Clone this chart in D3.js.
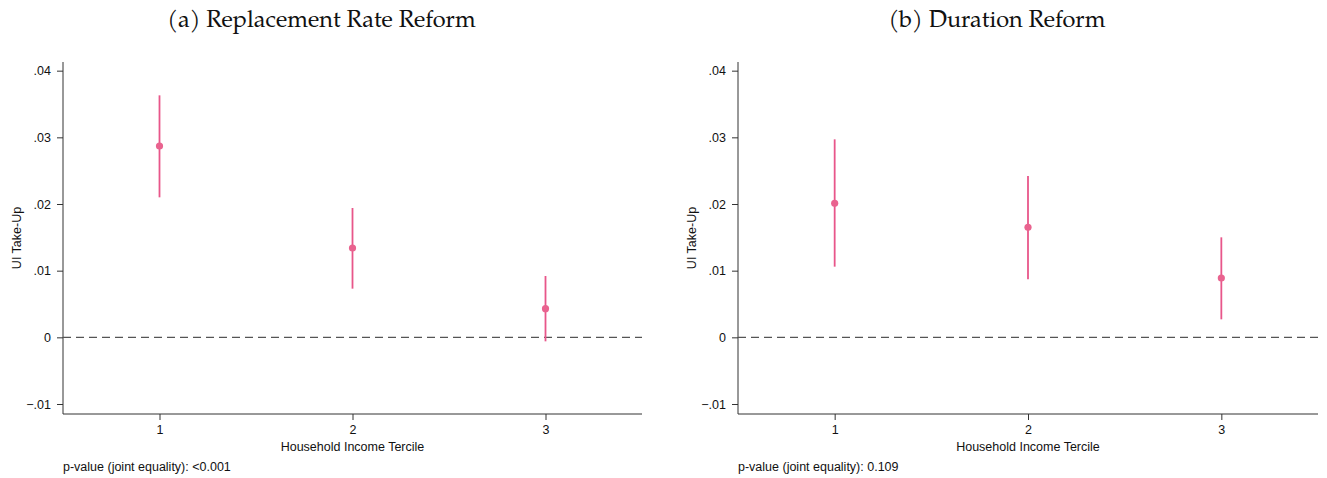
<!DOCTYPE html>
<html>
<head>
<meta charset="utf-8">
<script src="https://cdn.jsdelivr.net/npm/d3@7"></script>
<style>
  body { margin: 0; background: #fff; }
  svg { display: block; }
</style>
</head>
<body>
<div id="chart"></div>
<script>
const terciles = [1, 2, 3];
const yTicks = [-0.01, 0, 0.01, 0.02, 0.03, 0.04];
const titles = ["(a) Replacement Rate Reform", "(b) Duration Reform"];
const pValues = ["<0.001", "0.109"];

// point estimates and 95% bounds
const rrEstimate = [0.0287, 0.0134, 0.0043];
const rrLower = [0.0210, 0.0073, -0.0006];
const rrUpper = [0.0363, 0.0194, 0.0092];

const durEstimate = [0.0201, 0.0165, 0.0089];
const durLower = [0.0106, 0.0087, 0.0027];
const durUpper = [0.0297, 0.0242, 0.0150];

const panels = [
  { title: titles[0], p: pValues[0], est: rrEstimate, lo: rrLower, hi: rrUpper, left: 63, right: 642 },
  { title: titles[1], p: pValues[1], est: durEstimate, lo: durLower, hi: durUpper, left: 738, right: 1318 },
];

const width = 1327;
const height = 478;
const plotTop = 62;
const plotBottom = 414;
const pink = "#e8568a";

const svg = d3
  .select("#chart")
  .append("svg")
  .attr("width", width)
  .attr("height", height)
  .style("font-family", "'Liberation Sans', Arial, sans-serif");

const y = d3.scaleLinear().domain([-0.0115, 0.0413]).range([plotBottom, plotTop]);

panels.forEach((p) => {
  const x = d3.scaleLinear().domain([0.5, 3.5]).range([p.left, p.right]);
  const g = svg.append("g");

  g.append("text")
    .attr("x", (p.left + p.right) / 2 - 31)
    .attr("y", 27)
    .attr("text-anchor", "middle")
    .style("font-family", "'Palatino Linotype', 'TeX Gyre Pagella', 'DejaVu Serif', serif")
    .style("font-size", "23.5px")
    .attr("fill", "#111")
    .text(p.title);

  const yAxis = g
    .append("g")
    .attr("transform", `translate(${p.left},0)`)
    .call(
      d3
        .axisLeft(y)
        .tickValues(yTicks)
        .tickSize(6)
        .tickPadding(6)
        .tickFormat((d) => (d === 0 ? "0" : d3.format(".2f")(d).replace("0.", "."))),
    );
  yAxis.select(".domain").attr("d", `M0,${plotTop}V${plotBottom}`).attr("stroke", "#333");

  const xAxis = g
    .append("g")
    .attr("transform", `translate(0,${plotBottom})`)
    .call(d3.axisBottom(x).tickValues(terciles).tickSize(6).tickPadding(5).tickFormat(d3.format("d")));
  xAxis.select(".domain").attr("d", `M${p.left},0H${p.right}`).attr("stroke", "#333");

  [yAxis, xAxis].forEach((a) => {
    a.selectAll(".tick line").attr("stroke", "#333");
    a.selectAll("text").style("font-size", "12.5px").attr("fill", "#111");
  });

  g.append("text")
    .attr("transform", `translate(${p.left - 42},${(plotTop + plotBottom) / 2}) rotate(-90)`)
    .attr("text-anchor", "middle")
    .style("font-size", "12.5px")
    .attr("fill", "#111")
    .text("UI Take-Up");

  g.append("text")
    .attr("x", x(2))
    .attr("y", 451)
    .attr("text-anchor", "middle")
    .style("font-size", "12.5px")
    .attr("fill", "#111")
    .text("Household Income Tercile");

  g.append("text")
    .attr("x", p.left)
    .attr("y", 471)
    .style("font-size", "12.5px")
    .attr("fill", "#111")
    .text(`p-value (joint equality): ${p.p}`);

  // zero reference line
  g.append("line")
    .attr("x1", p.left)
    .attr("x2", p.right)
    .attr("y1", y(0))
    .attr("y2", y(0))
    .attr("stroke", "#555")
    .attr("stroke-width", 1.3)
    .attr("stroke-dasharray", "8,5");

  const rows = terciles.map((t, i) => ({ t, est: p.est[i], lo: p.lo[i], hi: p.hi[i] }));

  g.selectAll(".ci")
    .data(rows)
    .join("line")
    .attr("x1", (d) => x(d.t))
    .attr("x2", (d) => x(d.t))
    .attr("y1", (d) => y(d.lo))
    .attr("y2", (d) => y(d.hi))
    .attr("stroke", pink)
    .attr("stroke-width", 1.8);

  g.selectAll(".pt")
    .data(rows)
    .join("circle")
    .attr("cx", (d) => x(d.t))
    .attr("cy", (d) => y(d.est))
    .attr("r", 3.6)
    .attr("fill", "#e9638f");
});
</script>
</body>
</html>
